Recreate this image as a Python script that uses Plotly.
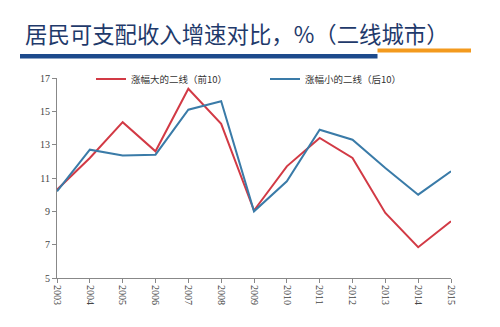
import plotly.graph_objects as go

years = [2003, 2004, 2005, 2006, 2007, 2008, 2009, 2010, 2011, 2012, 2013, 2014, 2015]
top10 = [10.3, 12.2, 14.35, 12.6, 16.35, 14.25, 9.05, 11.7, 13.4, 12.2, 8.9, 6.85, 8.4]
bottom10 = [10.2, 12.7, 12.35, 12.4, 15.1, 15.6, 9.0, 10.8, 13.9, 13.3, 11.6, 10.0, 11.4]
y_ticks = [5, 7, 9, 11, 13, 15, 17]
name_top = "涨幅大的二线（前10）"
name_bottom = "涨幅小的二线（后10）"
title = "居民可支配收入增速对比，%（二线城市）"

L, R, T, B = 57, 49, 78, 49
W, H = 500, 327
pw, ph = W - L - R, H - T - B

def px(x):
    return (x - L) / pw

def py(y):
    return (H - B - y) / ph

fig = go.Figure()
fig.add_trace(go.Scatter(x=years, y=top10, mode="lines", name=name_top,
                         line=dict(color="#d23a45", width=2), legend="legend"))
fig.add_trace(go.Scatter(x=years, y=bottom10, mode="lines", name=name_bottom,
                         line=dict(color="#3a7ba8", width=2), legend="legend2"))

cjk = "Noto Sans CJK SC"
leg_common = dict(orientation="h", xanchor="left", yanchor="middle", itemwidth=30,
                  font=dict(family=cjk, size=9.5, color="#333"), bgcolor="rgba(0,0,0,0)")
fig.update_layout(
    width=W, height=H,
    margin=dict(l=L, r=R, t=T, b=B),
    paper_bgcolor="white", plot_bgcolor="white",
    showlegend=True,
    legend=dict(x=px(91), y=py(79), **leg_common),
    legend2=dict(x=px(265), y=py(79), **leg_common),
    xaxis=dict(range=[2003, 2015], tickmode="array", tickvals=years,
               ticktext=[str(y) for y in years], tickangle=90,
               showgrid=False, zeroline=False, showline=True, linecolor="#888", linewidth=1.2,
               ticks="outside", ticklen=4, tickcolor="#888",
               tickfont=dict(family="Liberation Serif", size=10, color="#444")),
    yaxis=dict(range=[5, 17], tickmode="array", tickvals=y_ticks,
               showgrid=False, zeroline=False, showline=True, linecolor="#888", linewidth=1.2,
               ticks="outside", ticklen=4, tickcolor="#888",
               tickfont=dict(family="Liberation Serif", size=10, color="#444")),
    annotations=[dict(text=title, xref="paper", yref="paper", x=px(23), y=py(33),
                      xanchor="left", yanchor="middle", showarrow=False,
                      font=dict(family=cjk, size=22.4, color="#1f3a6b"))],
    shapes=[
        dict(type="rect", xref="paper", yref="paper", x0=px(20), x1=px(377.5),
             y0=py(58.5), y1=py(54), fillcolor="#1d4a8c", line=dict(width=0), layer="above"),
        dict(type="rect", xref="paper", yref="paper", x0=px(377.5), x1=px(471),
             y0=py(52.5), y1=py(48.5), fillcolor="#f39a1e", line=dict(width=0), layer="above"),
    ],
)

fig.write_html("out.html")
